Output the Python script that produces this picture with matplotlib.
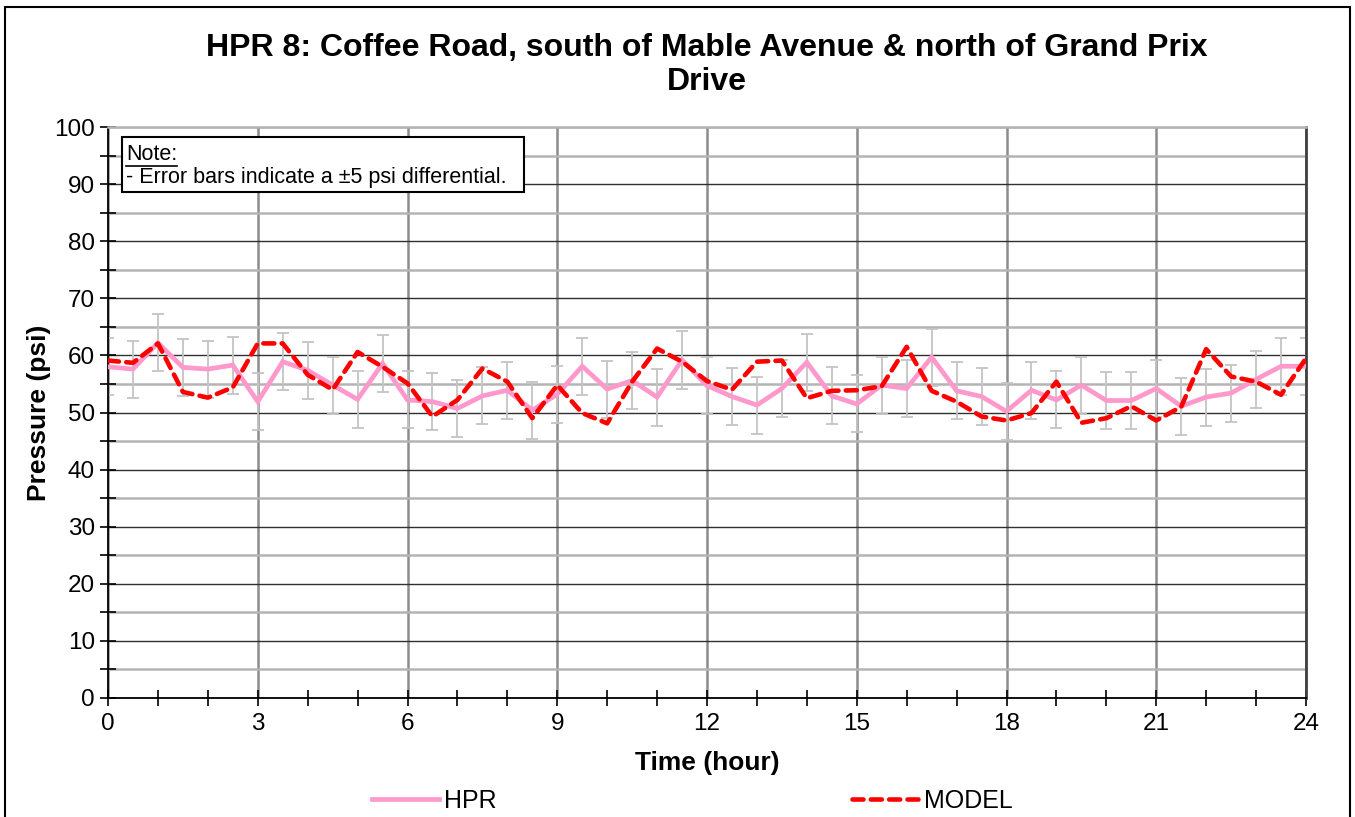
import matplotlib
matplotlib.use("Agg")
import matplotlib.pyplot as plt
from matplotlib.ticker import MultipleLocator
from matplotlib.lines import Line2D
from matplotlib.patches import Rectangle

plt.rcParams['font.family'] = ['Liberation Sans', 'DejaVu Sans']

hours = [i * 0.5 for i in range(49)]
hpr = [58.0, 57.6, 62.2, 57.9, 57.6, 58.3, 51.9, 58.9, 57.4, 54.8, 52.3, 58.6, 52.2,
       51.9, 50.7, 52.9, 53.9, 50.4, 53.2, 58.1, 54.1, 55.6, 52.7, 59.2, 54.7,
       52.8, 51.3, 54.2, 58.8, 52.9, 51.5, 54.8, 54.2, 59.7, 53.8, 52.8, 50.2,
       53.9, 52.2, 54.8, 52.1, 52.1, 54.2, 51.1, 52.7, 53.4, 55.8, 58.1, 58.1]
model = [59.1, 58.7, 62.1, 53.6, 52.6, 54.4, 62.1, 62.1, 56.6, 54.0, 60.6, 58.0, 55.1,
         49.3, 52.2, 57.7, 55.4, 49.0, 54.8, 49.9, 48.1, 55.4, 61.2, 58.9, 55.5,
         54.0, 58.9, 59.1, 52.5, 53.8, 53.9, 54.6, 61.5, 53.8, 51.9, 49.3, 48.6,
         49.9, 55.4, 48.2, 49.0, 51.1, 48.6, 51.0, 61.1, 56.3, 55.4, 53.1, 59.5]
err = 5

title = "HPR 8: Coffee Road, south of Mable Avenue & north of Grand Prix\nDrive"
xlabel = "Time (hour)"
ylabel = "Pressure (psi)"
note_lines = ["Note:", "- Error bars indicate a \u00b15 psi differential."]

W, H = 1355, 817
fig = plt.figure(figsize=(W / 100, H / 100), dpi=100)
ax = fig.add_axes([108 / W, 1 - 698 / H, (1306 - 108) / W, (698 - 127) / H])

# outer border
fig.patches.append(Rectangle((5 / W, -0.01), (1350 - 5) / W, (H - 7) / H + 0.01,
                             transform=fig.transFigure, fill=False,
                             edgecolor='black', linewidth=1.5))

ax.set_xlim(0, 24)
ax.set_ylim(0, 100)
ax.xaxis.set_major_locator(MultipleLocator(3))
ax.xaxis.set_minor_locator(MultipleLocator(1))
ax.yaxis.set_major_locator(MultipleLocator(10))
ax.yaxis.set_minor_locator(MultipleLocator(5))

# grid
ax.grid(which='minor', axis='y', color='#b4b4b4', linewidth=1.8)
ax.grid(which='major', axis='y', color='#303030', linewidth=1.0)
ax.grid(which='major', axis='x', color='#8c8c8c', linewidth=1.8)
ax.set_axisbelow(True)

ax.tick_params(which='both', direction='inout', length=11, width=1.2,
               labelsize=17.5, color='black')
ax.tick_params(axis='x', pad=5)
ax.tick_params(axis='y', pad=4)

for s in ['left', 'bottom']:
    ax.spines[s].set_color('black')
    ax.spines[s].set_linewidth(1.3)
ax.spines['top'].set_color('#b4b4b4')
ax.spines['top'].set_linewidth(1.8)
ax.spines['right'].set_color('#404040')
ax.spines['right'].set_linewidth(2)

ax.errorbar(hours, hpr, yerr=err, fmt='none', ecolor='#c4c4c4', elinewidth=1.3,
            capsize=4.5, capthick=1.3, zorder=2)
l1, = ax.plot(hours, hpr, color='#ff99cc', linewidth=3.4, zorder=3,
              solid_joinstyle='miter', label='HPR')
l2, = ax.plot(hours, model, color='#ff0000', linewidth=3.3, zorder=4,
              linestyle=(0, (2.4, 1.6)), dash_capstyle='round', label='MODEL')

ax.set_xlabel(xlabel, fontsize=19, fontweight='bold', labelpad=12)
ax.set_ylabel(ylabel, fontsize=19, fontweight='bold', labelpad=2)

fig.text(707 / W, 1 - 65 / H, title, ha='center', va='center', fontsize=23,
         fontweight='bold', linespacing=1.15)

# note box
ax.add_patch(Rectangle((122 / W, 1 - 192 / H), (524 - 122) / W, (192 - 137) / H,
                       transform=fig.transFigure, fill=True, facecolor='white',
                       edgecolor='black', linewidth=1.5, zorder=10))
t_note = fig.text(126 / W, 1 - 155 / H, note_lines[0], fontsize=15.5, va='center',
                  ha='left', zorder=11)
fig.text(126 / W, 1 - 178 / H, note_lines[1], fontsize=15.5, va='center', ha='left', zorder=11)
fig.canvas.draw()
bb = t_note.get_window_extent()
fig.add_artist(Line2D([bb.x0 / W, bb.x1 / W], [1 - 165.5 / H, 1 - 165.5 / H],
                      transform=fig.transFigure, color='black', linewidth=1.2))

fig.legend(handles=[l1, l2], loc='center', bbox_to_anchor=(0.511, 1 - 801 / H),
           ncol=2, frameon=False, fontsize=18, handlelength=2.7,
           columnspacing=14.2, handletextpad=0.2)

fig.savefig('out.png', dpi=100)
